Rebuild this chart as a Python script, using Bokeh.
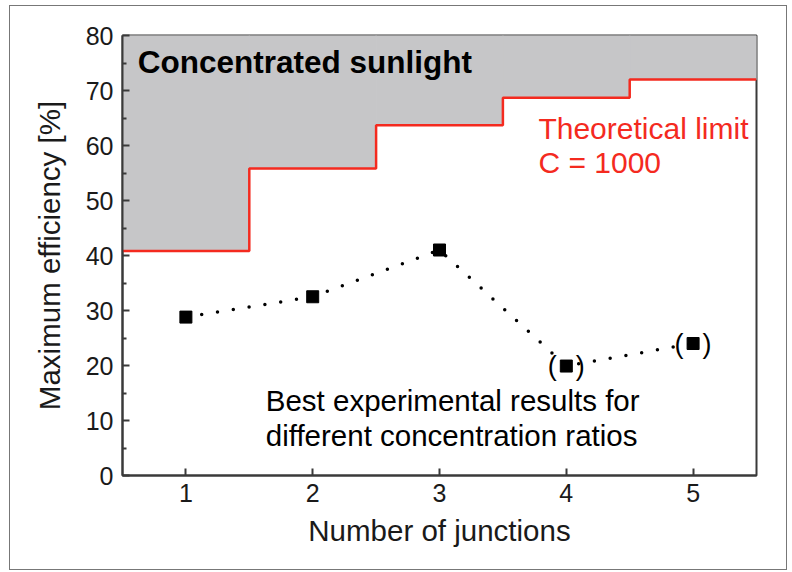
from bokeh.plotting import figure
from bokeh.models import Range1d, FixedTicker
from bokeh.core.properties import value
from bokeh.embed import file_html
from bokeh.resources import INLINE

# ---- data ----
junctions = [1, 2, 3, 4, 5]
theoretical_limit = [40.8, 55.8, 63.7, 68.7, 72.0]
best_experimental = [28.8, 32.5, 41.0, 19.9, 24.0]
bracketed = [4, 5]
y_ticks = [0, 10, 20, 30, 40, 50, 60, 70, 80]
y_minor = [5, 15, 25, 35, 45, 55, 65, 75]
x_ticks = [1, 2, 3, 4, 5]

FONT = "Liberation Sans"
RED = "#f42a1f"
GRAY = "#c6c6c8"
AX = "#3a3a3a"

p = figure(width=778, height=565, output_backend="svg", toolbar_location=None,
           x_range=Range1d(0.5, 5.5), y_range=Range1d(0, 80),
           min_border_left=112, min_border_right=32, min_border_top=29,
           min_border_bottom=96)
p.styles = {"border": "1px solid #777", "margin-left": "9px", "margin-top": "5px"}
p.background_fill_color = "white"
p.border_fill_color = "white"
p.xgrid.visible = False
p.ygrid.visible = False
p.outline_line_color = AX
p.outline_line_width = 2

# gray "concentrated sunlight" region above the limit
half = 0.5
p.quad(left=[j - half for j in junctions], right=[j + half for j in junctions],
       bottom=theoretical_limit, top=[80] * len(junctions),
       fill_color=GRAY, line_color=GRAY, line_width=1)

# step line for theoretical limit
sx, sy = [], []
for j, v in zip(junctions, theoretical_limit):
    sx += [j - half, j + half]
    sy += [v, v]
p.line(sx, sy, line_color=RED, line_width=2.5)

# dotted connection of best experimental results
p.line(junctions, best_experimental, line_color="black", line_width=3.5,
       line_dash="0 16", line_cap="round")
p.scatter(junctions, best_experimental, marker="square", size=12,
          fill_color="black", line_color="black")

# brackets around uncertain points
bx = [j for j in junctions if j in bracketed]
by = [best_experimental[junctions.index(j)] for j in bx]
p.text(bx, by, text=["("] * len(bx), x_offset=-14, text_align="center",
       text_baseline="middle", text_font=value(FONT), text_font_size="27px",
       text_color="black")
p.text(bx, by, text=[")"] * len(bx), x_offset=14, text_align="center",
       text_baseline="middle", text_font=value(FONT), text_font_size="27px",
       text_color="black")

# annotations
p.text([0.62], [75.1], text=["Concentrated sunlight"], text_font=value(FONT),
       text_font_style="bold", text_font_size="31.5px", text_baseline="middle",
       text_color="black")
p.text([3.78, 3.78], [63.1, 56.9], text=["Theoretical limit", "C = 1000"],
       text_font=value(FONT), text_font_size="30px", text_baseline="middle",
       text_color=RED)
p.text([1.63, 1.63], [13.6, 7.2],
       text=["Best experimental results for", "different concentration ratios"],
       text_font=value(FONT), text_font_size="29.5px", text_baseline="middle",
       text_color="black")

# axes
p.xaxis.ticker = FixedTicker(ticks=x_ticks)
p.yaxis.ticker = FixedTicker(ticks=y_ticks, minor_ticks=y_minor)
for ax in (p.xaxis[0], p.yaxis[0]):
    ax.axis_line_color = AX
    ax.axis_line_width = 2
    ax.major_tick_line_color = AX
    ax.major_tick_line_width = 2
    ax.minor_tick_line_color = AX
    ax.minor_tick_line_width = 2
    ax.major_tick_in = 7
    ax.major_tick_out = 0
    ax.minor_tick_in = 4
    ax.minor_tick_out = 0
    ax.major_label_text_font = FONT
    ax.major_label_text_font_size = "25px"
    ax.major_label_text_color = "#1a1a1a"
    ax.axis_label_text_font = FONT
    ax.axis_label_text_font_size = "29.5px"
    ax.axis_label_text_font_style = "normal"
    ax.axis_label_text_color = "#1a1a1a"
p.xaxis.minor_tick_line_color = None
p.xaxis.major_label_standoff = 8
p.yaxis.major_label_standoff = 9
p.xaxis.axis_label = "Number of junctions"
p.yaxis.axis_label = "Maximum efficiency [%]"
p.xaxis.axis_label_standoff = 9
p.yaxis.axis_label_standoff = 17

open("out.html", "w").write(file_html(p, INLINE))
